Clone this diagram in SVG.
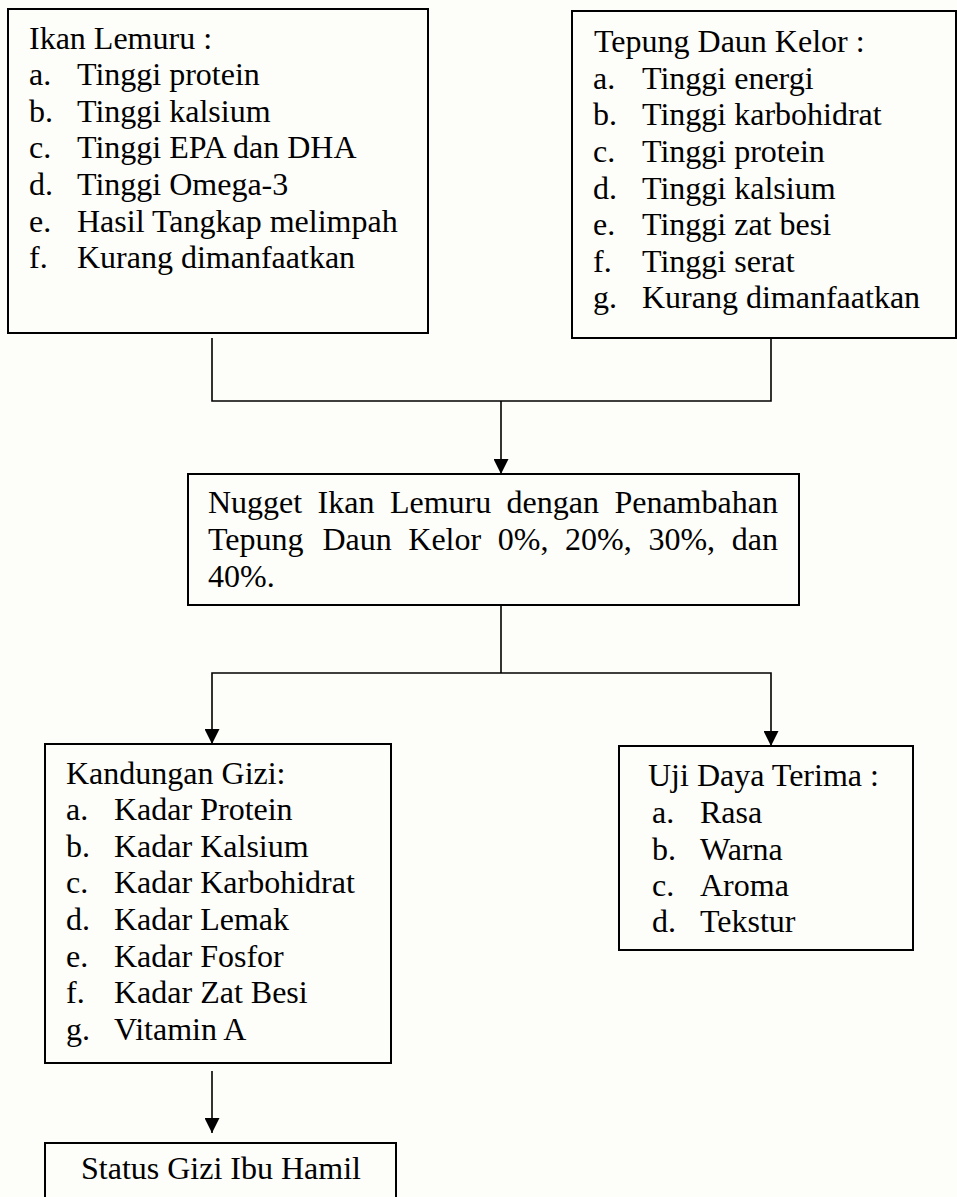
<svg xmlns="http://www.w3.org/2000/svg" width="957" height="1197" viewBox="0 0 957 1197">
<style>
  text { font-family: "Liberation Serif", "Times New Roman", serif; font-size: 32px; fill: #000; }
  .box { fill: none; stroke: #000; stroke-width: 2; }
  .conn { fill: none; stroke: #000; stroke-width: 1.6; }
</style>
<defs>
  <marker id="arrow" markerUnits="userSpaceOnUse" markerWidth="15" markerHeight="15" refX="15" refY="7.5" orient="auto">
    <path d="M0,0 L15,7.5 L0,15 z" fill="#000"/>
  </marker>
</defs>
<rect width="957" height="1197" fill="#fdfdf9"/>

<g id="connectors">
  <path class="conn" d="M212,338 V401 H771 V338"/>
  <path class="conn" d="M501,401 V474" marker-end="url(#arrow)"/>
  <path class="conn" d="M501,605 V673"/>
  <path class="conn" d="M501,673 H212 V744" marker-end="url(#arrow)"/>
  <path class="conn" d="M501,673 H771 V746" marker-end="url(#arrow)"/>
  <path class="conn" d="M212,1071 V1133" marker-end="url(#arrow)"/>
</g>

<g id="ikan-lemuru">
  <rect class="box" x="8" y="9" width="420" height="324"/>
  <text x="29" y="49">Ikan Lemuru :</text>
  <text x="29" y="85">a.</text><text x="77" y="85">Tinggi protein</text>
  <text x="29" y="122">b.</text><text x="77" y="122">Tinggi kalsium</text>
  <text x="29" y="158">c.</text><text x="77" y="158">Tinggi EPA dan DHA</text>
  <text x="29" y="195">d.</text><text x="77" y="195">Tinggi Omega-3</text>
  <text x="29" y="232">e.</text><text x="77" y="232">Hasil Tangkap melimpah</text>
  <text x="29" y="268">f.</text><text x="77" y="268">Kurang dimanfaatkan</text>
</g>

<g id="tepung-daun-kelor">
  <rect class="box" x="572" y="11" width="384" height="327"/>
  <text x="594" y="52">Tepung Daun Kelor :</text>
  <text x="593" y="89">a.</text><text x="642" y="89">Tinggi energi</text>
  <text x="593" y="125">b.</text><text x="642" y="125">Tinggi karbohidrat</text>
  <text x="593" y="162">c.</text><text x="642" y="162">Tinggi protein</text>
  <text x="593" y="199">d.</text><text x="642" y="199">Tinggi kalsium</text>
  <text x="593" y="235">e.</text><text x="642" y="235">Tinggi zat besi</text>
  <text x="593" y="272">f.</text><text x="642" y="272">Tinggi serat</text>
  <text x="593" y="308">g.</text><text x="642" y="308">Kurang dimanfaatkan</text>
</g>

<g id="nugget">
  <rect class="box" x="188" y="474" width="611" height="131"/>
  <text y="513"><tspan x="208">Nugget</tspan><tspan x="317.6">Ikan</tspan><tspan x="389.9">Lemuru</tspan><tspan x="506.6">dengan</tspan><tspan x="614.4">Penambahan</tspan></text>
  <text y="550"><tspan x="208">Tepung</tspan><tspan x="322.4">Daun</tspan><tspan x="408.3">Kelor</tspan><tspan x="497.8">0%,</tspan><tspan x="565.1">20%,</tspan><tspan x="648.4">30%,</tspan><tspan x="731.7">dan</tspan></text>
  <text x="208" y="587">40%.</text>
</g>

<g id="kandungan-gizi">
  <rect class="box" x="45" y="744" width="346" height="319"/>
  <text x="66" y="784">Kandungan Gizi:</text>
  <text x="66" y="820">a.</text><text x="114" y="820">Kadar Protein</text>
  <text x="66" y="857">b.</text><text x="114" y="857">Kadar Kalsium</text>
  <text x="66" y="893">c.</text><text x="114" y="893">Kadar Karbohidrat</text>
  <text x="66" y="930">d.</text><text x="114" y="930">Kadar Lemak</text>
  <text x="66" y="967">e.</text><text x="114" y="967">Kadar Fosfor</text>
  <text x="66" y="1003">f.</text><text x="114" y="1003">Kadar Zat Besi</text>
  <text x="66" y="1040">g.</text><text x="114" y="1040">Vitamin A</text>
</g>

<g id="uji-daya-terima">
  <rect class="box" x="619" y="746" width="294" height="204"/>
  <text x="648" y="786">Uji Daya Terima :</text>
  <text x="652" y="823">a.</text><text x="700" y="823">Rasa</text>
  <text x="652" y="860">b.</text><text x="700" y="860">Warna</text>
  <text x="652" y="896">c.</text><text x="700" y="896">Aroma</text>
  <text x="652" y="932">d.</text><text x="700" y="932">Tekstur</text>
</g>

<g id="status-gizi">
  <rect class="box" x="45" y="1143" width="351" height="80"/>
  <text x="81" y="1179">Status Gizi Ibu Hamil</text>
</g>
</svg>
